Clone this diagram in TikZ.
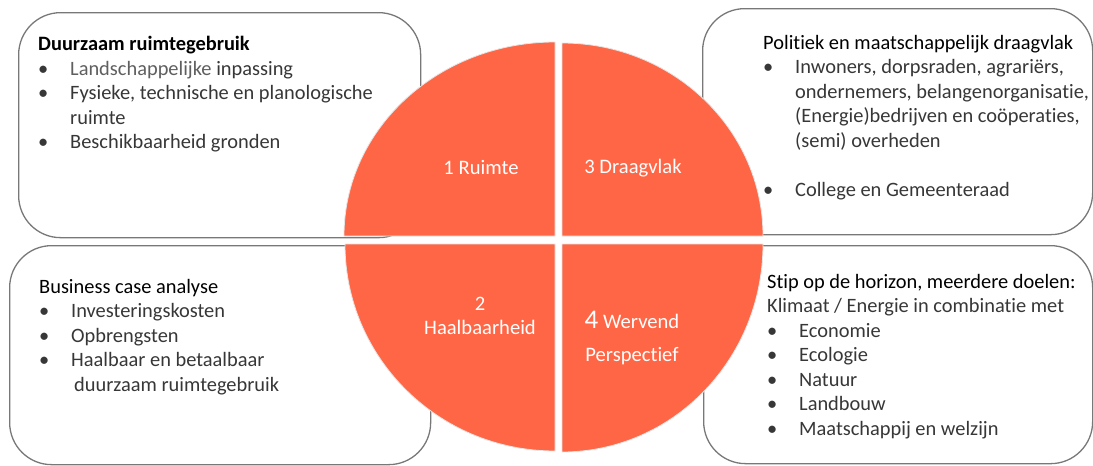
\documentclass[tikz,border=0pt]{standalone}
\usepackage{fontspec}
\setmainfont{Carlito}[Ligatures=NoCommon]
\usetikzlibrary{positioning}

\definecolor{quarterred}{RGB}{255,102,69}
\definecolor{boxline}{RGB}{120,120,120}
\definecolor{bodytext}{RGB}{55,55,55}
\definecolor{softtext}{RGB}{95,95,95}

\newcommand{\bul}{\makebox[32pt][l]{\textbullet}}
\newcommand{\hang}{\hspace*{32pt}}

\begin{document}
\begin{tikzpicture}[x=1pt,y=-1pt]

\tikzstyle{panel} = [rectangle, draw=boxline, line width=1.3pt, rounded corners=42pt,
    fill=white, anchor=north west]
\tikzstyle{list} = [inner sep=0pt, align=left, text=bodytext,
    font=\fontsize{20.4}{24.5}\selectfont]
\tikzstyle{quarter} = [fill=quarterred, draw=white!80!gray, line width=0.8pt]
\tikzstyle{label} = [text=white, align=center, font=\fontsize{20.6}{24.5}\selectfont]

\useasboundingbox (0,0) rectangle (1093,466);

% the four panels
\node [panel, minimum width=402pt, minimum height=225pt] (ruimtebox) at (18,12) {};
\node [panel, minimum width=390pt, minimum height=226pt] (draagvlakbox) at (702,8) {};
\node [panel, minimum width=421pt, minimum height=219pt] (haalbaarbox) at (9,245) {};
\node [panel, minimum width=389pt, minimum height=218pt] (perspectiefbox) at (703,245) {};

% panel texts
\node [list, below right=24pt and 20pt of ruimtebox.north west] (ruimtetext) {%
  \textcolor{black}{\textbf{Duurzaam ruimtegebruik}}\\
  \bul\textcolor{softtext}{Landschappelijke} inpassing\\
  \bul Fysieke, technische en planologische\\
  \hang ruimte\\
  \bul Beschikbaarheid gronden};
\node [list, below right=27pt and 61pt of draagvlakbox.north west] (draagvlaktext) {%
  \textcolor{black}{Politiek en maatschappelijk draagvlak}\\
  \bul Inwoners, dorpsraden, agrariërs,\\
  \hang ondernemers, belangenorganisatie,\\
  \hang (Energie)bedrijven en coöperaties,\\
  \hang (semi) overheden\\[24.5pt]
  \bul College en Gemeenteraad};
\node [list, below right=34pt and 30pt of haalbaarbox.north west] (haalbaartext) {%
  \textcolor{black}{Business case analyse}\\
  \bul Investeringskosten\\
  \bul Opbrengsten\\
  \bul Haalbaar en betaalbaar\\
  \hang\hspace*{3pt}duurzaam ruimtegebruik};
\node [list, below right=29pt and 64pt of perspectiefbox.north west] (perspectieftext) {%
  \textcolor{black}{Stip op de horizon, meerdere doelen:}\\
  Klimaat / Energie in combinatie met\\
  \bul Economie\\
  \bul Ecologie\\
  \bul Natuur\\
  \bul Landbouw\\
  \bul Maatschappij en welzijn};

% the circle in four quarters
\draw [quarter] (555,236) -- (344,236)
  arc [start angle=180, end angle=270, x radius=211, y radius=194] -- cycle;
\draw [quarter] (562,236) -- (562,43)
  arc [start angle=270, end angle=360, x radius=201, y radius=193] -- cycle;
\draw [quarter] (562,244) -- (763,244)
  arc [start angle=0, end angle=90, x radius=201, y radius=208] -- cycle;
\draw [quarter] (555,244) -- (555,451)
  arc [start angle=90, end angle=180, x radius=210, y radius=207] -- cycle;

\node [label] (ruimte) at (481,167) {1 Ruimte};
\node [label] (draagvlak) at (633,168) {3 Draagvlak};
\node [label] (haalbaar) at (480,316) {2\\[-1pt]Haalbaarheid};
\node [label] (perspectief) at (632,338)
  {{\fontsize{27}{28}\selectfont 4} Wervend\\[8pt]Perspectief};

\end{tikzpicture}
\end{document}
